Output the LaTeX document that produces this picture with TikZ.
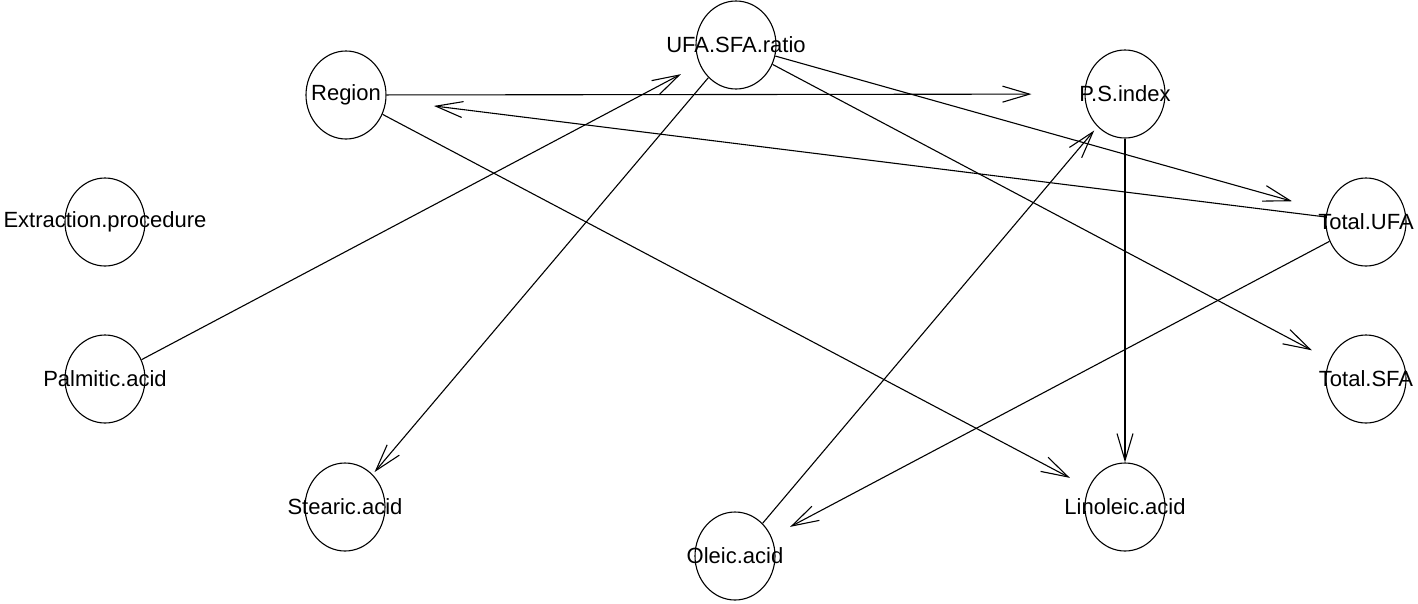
\documentclass[tikz,border=0pt]{standalone}
\usepackage{fontspec}
\setmainfont{Liberation Sans}
\usetikzlibrary{shapes.geometric,arrows.meta}
\begin{document}
\begin{tikzpicture}[x=1pt,y=-1pt,
  vnode/.style={ellipse,draw,line width=1.1pt,minimum width=80pt,minimum height=88pt,inner sep=0pt},
  vlabel/.style={font=\fontsize{22}{26}\selectfont},
  edge/.style={line width=1.1pt,-{Straight Barb[length=27pt,width=16pt]}}]
\useasboundingbox (0,0) rectangle (1418,603);
\node[vnode,label={[vlabel]center:UFA.SFA.ratio}] (ufa) at (736,45) {};
\node[vnode,label={[vlabel]center:Region}] (reg) at (346,95) {};
\node[vnode,label={[vlabel]center:P.S.index}] (ps) at (1125,94) {};
\node[vnode,label={[vlabel]center:Extraction.procedure}] (ext) at (105,222) {};
\node[vnode,label={[vlabel]center:Total.UFA}] (tufa) at (1366,222) {};
\node[vnode,label={[vlabel]center:Palmitic.acid}] (pal) at (105,379) {};
\node[vnode,label={[vlabel]center:Total.SFA}] (tsfa) at (1366,379) {};
\node[vnode,label={[vlabel]center:Stearic.acid}] (ste) at (345,507) {};
\node[vnode,label={[vlabel]center:Linoleic.acid}] (lin) at (1125,507) {};
\node[vnode,label={[vlabel]center:Oleic.acid}] (ole) at (735,556) {};
\draw[edge,shorten >=53pt] (reg) -- (ps);
\draw[edge,shorten >=36pt] (ufa) -- (tufa);
\draw[edge,shorten >=20pt] (ufa) -- (tsfa);
\draw[edge,shorten >=3pt] (ufa) -- (ste);
\draw[edge,shorten >=21pt] (pal) -- (ufa);
\draw[edge,shorten >=21pt] (reg) -- (lin);
\draw[edge,shorten >=48pt] (tufa) -- (reg);
\draw[edge,shorten >=5pt] (ole) -- (ps);
\draw[edge] (ps) -- (lin);
\draw[edge,shorten >=21pt] (tufa) -- (ole);
\end{tikzpicture}
\end{document}
